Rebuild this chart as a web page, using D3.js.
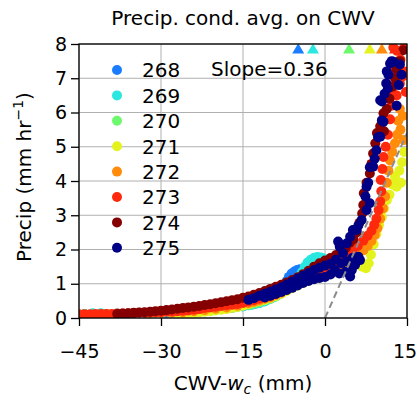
<!DOCTYPE html>
<html>
<head>
<meta charset="utf-8">
<script src="https://cdn.jsdelivr.net/npm/d3@7"></script>
<style>
  body { margin: 0; background: #fff; }
  svg { display: block; }
  text { font-family: "DejaVu Sans", sans-serif; fill: #000; }
</style>
</head>
<body>
<svg id="chart" width="418" height="403"></svg>
<script>
// Temperature bins (legend entries)
const temps = [268, 269, 270, 271, 272, 273, 274, 275];

// Conditionally averaged precip (mm/hr) vs CWV - w_c (mm), one list per bin
const pts268 = [[-44,0.11],[-41,0.12],[-38,0.12],[-35,0.13],[-32,0.14],[-29,0.15],[-26,0.17],[-23,0.2],[-20,0.24],[-17,0.29],[-15,0.34],[-14,0.37],[-13,0.4],[-12,0.44],[-11,0.49],[-10,0.56],[-9,0.7],[-8.2,0.85],[-7.5,0.98],[-7,1.08],[-6.6,1.2],[-6.1,1.3],[-5.6,1.36],[-5.1,1.4],[-4.6,1.42],[-4.2,1.38],[-5.8,1.2],[-5,1.25]];
const pts269 = [[-44,0.12],[-42.5,0.14],[-41,0.14],[-38,0.13],[-35,0.14],[-32,0.15],[-29,0.16],[-26,0.18],[-23,0.21],[-20,0.25],[-17,0.3],[-15,0.34],[-13.5,0.38],[-12.5,0.42],[-11.8,0.45],[-11.2,0.48],[-10.6,0.52],[-10,0.56],[-9.4,0.6],[-8.8,0.65],[-8.2,0.7],[-7.5,0.8],[-6.5,0.95],[-5.5,1.1],[-4.8,1.22],[-4.2,1.34],[-3.7,1.5],[-3.2,1.62],[-2.6,1.7],[-2,1.76],[-1.4,1.78],[-0.8,1.77],[-0.3,1.74]];
const pts270 = [[-44,0.11],[-40,0.12],[-36,0.13],[-32,0.14],[-28,0.16],[-25,0.18],[-22,0.21],[-19,0.26],[-16,0.32],[-14,0.38],[-13,0.42],[-12,0.46],[-11,0.51],[-10,0.56],[-9,0.63],[-8,0.72],[-7,0.82],[-6,0.92],[-5,1.02],[-4,1.1],[-3,1.18],[-2,1.25],[-1,1.32],[0,1.38],[1,1.45],[2,1.55],[3,1.68],[3.8,1.8]];
const pts271 = [[-27,0.13],[-26,0.135],[-25,0.14],[-24,0.15],[-23,0.16],[-22,0.18],[-21,0.2],[-20,0.22],[-19,0.24],[-18,0.26],[-17,0.29],[-16,0.32],[-15,0.36],[-14,0.4],[-13,0.45],[-12,0.49],[-11,0.53],[-10,0.58],[-9,0.64],[-8,0.71],[-7,0.79],[-6,0.87],[-5,0.95],[-4,1.02],[-3,1.08],[-2,1.13],[-1,1.18],[0,1.3],[1.5,1.45],[3,1.55],[4.5,1.6],[5.8,1.6],[6.8,1.5],[7.5,1.45],[8,1.6],[8.4,1.85],[8.9,2.15],[9.4,2.45],[9.9,2.72],[10.4,2.95],[10.8,3.2],[11.3,3.44],[11.8,3.6],[12.3,3.9],[12.8,4.13],[13.1,3.83],[13.6,4.3],[14.1,4.55],[14.5,4.85],[13.9,3.95]];
const pts272 = [[-32,0.14],[-30,0.15],[-28,0.155],[-26,0.17],[-24,0.2],[-22,0.23],[-20,0.27],[-18,0.31],[-16,0.36],[-14,0.43],[-13,0.47],[-12,0.51],[-11,0.56],[-10,0.6],[-9,0.67],[-8,0.74],[-7,0.82],[-6,0.9],[-5,0.98],[-4,1.05],[-3,1.11],[-2,1.16],[-1,1.21],[0,1.26],[1,1.34],[2,1.42],[3,1.52],[4,1.6],[5,1.7],[6,1.82],[7,1.97],[7.8,2.1],[8.5,2.25],[9.1,2.42],[9.6,2.62],[10.1,2.9],[10.6,3.2],[11,3.55],[11.3,3.95],[11.6,4.3],[11.9,4.6],[12.3,4.85],[12.8,5.1],[13.2,5.35],[13.4,5.75],[13.8,5.5],[14.2,5.9],[13.7,6.1],[14.4,5.2]];
const pts273 = [[-47,0.1],[-46,0.11],[-45,0.11],[-44,0.11],[-43,0.11],[-42,0.12],[-41,0.12],[-40,0.12],[-39,0.12],[-38,0.13],[-37,0.13],[-36,0.14],[-35,0.14],[-34,0.15],[-33,0.15],[-32,0.16],[-31,0.16],[-30,0.17],[-29,0.18],[-28,0.19],[-27,0.2],[-26,0.21],[-25,0.22],[-24,0.24],[-23,0.26],[-22,0.29],[-21,0.31],[-20,0.33],[-19,0.35],[-18,0.37],[-17,0.39],[-16,0.41],[-15,0.44],[-14,0.48],[-13,0.52],[-12,0.56],[-11,0.6],[-10,0.64],[-9,0.7],[-8,0.77],[-7,0.84],[-6,0.92],[-5,1.0],[-4,1.07],[-3,1.14],[-2,1.2],[-1,1.26],[0,1.32],[1,1.42],[2,1.55],[3,1.68],[4,1.82],[5,1.96],[6,2.1],[7,2.26],[7.8,2.4],[8.5,2.55],[9,2.72],[9.4,2.9],[9.8,3.15],[10.1,3.4],[10.3,3.7],[10.2,4.03],[10.5,4.35],[10.7,4.7],[11.1,5.0],[11.5,5.35],[11.9,5.8],[12.2,6.2],[12.5,6.55],[13.1,6.5],[13.7,6.85],[14.2,7.05],[14.6,7.2],[12.9,7.3],[13.2,7.8],[13.8,7.55],[14.5,7.9],[12.5,7.9],[14.8,6.6]];
const pts274 = [[-38,0.12],[-37,0.13],[-36,0.14],[-35,0.15],[-34,0.16],[-33,0.17],[-32,0.18],[-31,0.2],[-30,0.21],[-29,0.23],[-28,0.25],[-27,0.27],[-26,0.29],[-25,0.31],[-24,0.33],[-23,0.35],[-22,0.38],[-21,0.4],[-20,0.43],[-19,0.46],[-18,0.49],[-17,0.52],[-16,0.55],[-15,0.59],[-14,0.63],[-13,0.68],[-12,0.73],[-11,0.79],[-10,0.85],[-9,0.91],[-8,0.97],[-7,1.04],[-6,1.11],[-5,1.19],[-4,1.28],[-3,1.38],[-2,1.5],[-1,1.6],[0,1.68],[1,1.75],[2,1.84],[3,1.95],[3.8,2.05],[4.5,2.2],[5.2,2.3],[5.8,2.5],[6.3,2.78],[6.8,3.05],[7,3.3],[7.1,3.64],[7.6,3.95],[8.2,4.22],[8.5,4.5],[8.8,4.8],[9.2,5.1],[9.5,5.4],[10.1,5.6],[10.7,5.98],[11.3,6.1],[11.8,6.4],[12.3,6.75],[12.8,7.0],[13.1,7.25],[13.7,7.5],[14.3,7.82],[10.8,5.45]];
const pts275 = [[-14,0.53],[-13,0.58],[-12,0.65],[-11,0.71],[-10,0.77],[-9,0.83],[-8,0.9],[-7,0.98],[-6,1.06],[-5,1.15],[-4,1.23],[-3,1.31],[-2,1.4],[-1,1.47],[0,1.53],[1,1.58],
  [-11,0.6],[-10,0.65],[-9,0.7],[-8,0.76],[-7,0.82],[-6,0.88],[-5,0.95],[-4,1.02],[-3,1.08],[-2,1.13],[-1,1.17],[0,1.2],[1,1.27],
  [1.8,1.4],[2.6,1.3],[2,1.7],[3,1.6],[3.3,1.89],[2.7,2.08],[2.4,2.23],[4,1.65],[3.8,1.35],[4.6,1.21],[4.9,1.4],[5,1.75],[5.5,1.55],[6.1,1.79],[6.4,1.69],[4,2.18],[4.6,2.37],[5.1,2.57],[5.8,2.57],[6.1,2.7],[6.7,2.86],[7.6,3.15],[8.2,3.35],[7.4,3.55],[7.6,3.83],[7.9,3.95],[8.2,4.4],[8.8,4.42],[9.1,4.65],[9.4,4.9],[9.7,5.28],[10.1,5.29],[10.4,5.77],[10.7,5.73],[10.4,6.32],[10.1,6.36],[10.9,6.55],[11.2,6.85],[11.5,6.7],[11.3,7.2],[11.6,7.1],[11.9,7.43],[12.2,7.5],[12.5,7.48],[13.7,7.4],[14,7.1],[13.5,6.8],[13.1,6.2]];

// Markers along the top edge, one per bin (268-273)
const topMarkX = [-4.9, -2.2, 4.4, 8.2, 10.4, 12.8];
const topMarkY = 7.82;

// Reference line through the origin
const slope = 0.36;

const xTicks = [-45, -30, -15, 0, 15];
const yTicks = [0, 1, 2, 3, 4, 5, 6, 7, 8];

const seriesColors = ["#1a7cff", "#2ae8e0", "#6ef86e", "#e4f21e", "#ff8c0a", "#ff2a0e", "#850000", "#000085"];
const seriesPts = [pts268, pts269, pts270, pts271, pts272, pts273, pts274, pts275];

const svg = d3.select("#chart");
const x = d3.scaleLinear().domain([-45, 15]).range([79, 407]);
const y = d3.scaleLinear().domain([0, 8]).range([318, 44]);
const [x0, x1] = x.range();
const [y0, y1] = y.range();

svg.append("defs").append("clipPath").attr("id", "plotClip")
  .append("rect").attr("x", x0).attr("y", y1).attr("width", x1 - x0).attr("height", y0 - y1);

// grid
const grid = svg.append("g").attr("stroke", "#b0b0b0").attr("stroke-width", 1);
grid.selectAll("line.v").data(xTicks).join("line")
  .attr("x1", d => x(d)).attr("x2", d => x(d)).attr("y1", y1).attr("y2", y0);
grid.selectAll("line.h").data(yTicks).join("line")
  .attr("y1", d => y(d)).attr("y2", d => y(d)).attr("x1", x0).attr("x2", x1);

// scatter
const plot = svg.append("g").attr("clip-path", "url(#plotClip)");
seriesPts.forEach((pts, i) => {
  plot.append("g").attr("fill", seriesColors[i])
    .selectAll("circle").data(pts).join("circle")
    .attr("cx", d => x(d[0])).attr("cy", d => y(d[1])).attr("r", 5);
});

// dashed slope line
plot.append("line")
  .attr("x1", x(0)).attr("y1", y(0))
  .attr("x2", x(15)).attr("y2", y(slope * 15))
  .attr("stroke", "#8c8c8c").attr("stroke-width", 2).attr("stroke-dasharray", "7,4");

// top markers
const tri = d3.symbol(d3.symbolTriangle, 62);
svg.append("g").selectAll("path").data(topMarkX).join("path")
  .attr("d", tri)
  .attr("transform", d => `translate(${x(d)},${y(topMarkY)})`)
  .attr("fill", (d, i) => seriesColors[i]);

// axes
const xAxis = svg.append("g").attr("transform", `translate(0,${y0})`)
  .call(d3.axisBottom(x).tickValues(xTicks).tickSize(8).tickSizeOuter(0).tickPadding(19));
const yAxis = svg.append("g").attr("transform", `translate(${x0},0)`)
  .call(d3.axisLeft(y).tickValues(yTicks).tickSize(8).tickSizeOuter(0).tickPadding(4));
[xAxis, yAxis].forEach(g => {
  g.select(".domain").remove();
  g.selectAll(".tick line").attr("stroke", "#000").attr("stroke-width", 1.3);
  g.selectAll(".tick text").attr("font-size", 19).attr("font-family", "DejaVu Sans").attr("fill", "#000");
});
// keep the last x label inside the canvas
xAxis.selectAll(".tick text").filter(d => d === xTicks[xTicks.length - 1]).attr("dx", -2.5);

// frame
svg.append("rect").attr("x", x0).attr("y", y1).attr("width", x1 - x0).attr("height", y0 - y1)
  .attr("fill", "none").attr("stroke", "#000").attr("stroke-width", 1.3);

// legend
const leg = svg.append("g");
temps.forEach((t, i) => {
  const cy = 70 + 25.4 * i;
  leg.append("circle").attr("cx", 117).attr("cy", cy).attr("r", 5).attr("fill", seriesColors[i]);
  leg.append("text").attr("x", 142).attr("y", cy + 7.3).attr("font-size", 20).text(t);
});
svg.append("text").attr("x", 211).attr("y", 76).attr("font-size", 20).text(`Slope=${slope}`);

// titles
svg.append("text").attr("x", (x0 + x1) / 2).attr("y", 25).attr("text-anchor", "middle")
  .attr("font-size", 20).text("Precip. cond. avg. on CWV");

const xl = svg.append("text").attr("x", (x0 + x1) / 2).attr("y", 390).attr("text-anchor", "middle").attr("font-size", 20);
xl.append("tspan").text("CWV-");
xl.append("tspan").attr("font-style", "italic").text("w");
xl.append("tspan").attr("font-style", "italic").attr("font-size", 14).attr("dy", 4).text("c");
xl.append("tspan").attr("dy", -4).text(" (mm)");

const yl = svg.append("text").attr("transform", `translate(31,${(y0 + y1) / 2 - 4}) rotate(-90)`)
  .attr("text-anchor", "middle").attr("font-size", 20);
yl.append("tspan").text("Precip (mm hr");
yl.append("tspan").attr("font-size", 14).attr("dy", -8).text("\u22121");
yl.append("tspan").attr("dy", 8).text(")");
</script>
</body>
</html>
